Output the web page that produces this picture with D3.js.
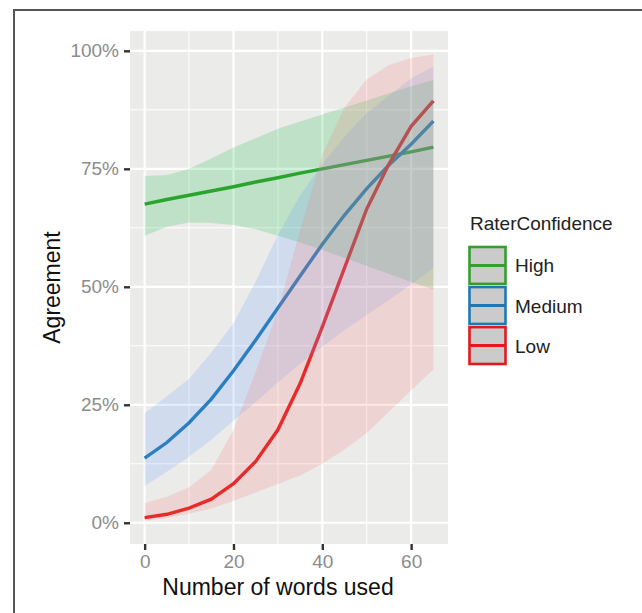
<!DOCTYPE html>
<html>
<head>
<meta charset="utf-8">
<script src="https://cdn.jsdelivr.net/npm/d3@7"></script>
<style>
  body { margin: 0; background: #fff; }
  svg { display: block; font-family: "Liberation Sans", Arial, sans-serif; }
</style>
</head>
<body>
<svg id="chart" width="642" height="613"></svg>
<script>
// words used (x)
const words = [0, 5, 10, 15, 20, 25, 30, 35, 40, 45, 50, 55, 60, 65];

// High confidence
const highFit   = [0.675, 0.685, 0.694, 0.703, 0.712, 0.722, 0.731, 0.741, 0.750, 0.759, 0.768, 0.777, 0.786, 0.796];
const highLower = [0.608, 0.627, 0.636, 0.635, 0.631, 0.622, 0.608, 0.594, 0.578, 0.561, 0.544, 0.527, 0.510, 0.494];
const highUpper = [0.735, 0.737, 0.750, 0.772, 0.795, 0.815, 0.835, 0.850, 0.865, 0.880, 0.895, 0.910, 0.925, 0.938];

// Medium confidence
const mediumFit   = [0.137, 0.170, 0.212, 0.262, 0.322, 0.387, 0.455, 0.523, 0.590, 0.652, 0.708, 0.758, 0.802, 0.851];
const mediumLower = [0.078, 0.108, 0.140, 0.176, 0.216, 0.256, 0.297, 0.337, 0.373, 0.408, 0.440, 0.472, 0.505, 0.540];
const mediumUpper = [0.232, 0.268, 0.305, 0.360, 0.423, 0.511, 0.610, 0.694, 0.760, 0.818, 0.868, 0.905, 0.942, 0.966];

// Low confidence
const lowFit   = [0.011, 0.018, 0.031, 0.050, 0.083, 0.130, 0.197, 0.295, 0.415, 0.540, 0.665, 0.760, 0.840, 0.894];
const lowLower = [0.004, 0.010, 0.019, 0.030, 0.046, 0.064, 0.082, 0.100, 0.125, 0.155, 0.190, 0.235, 0.280, 0.325];
const lowUpper = [0.042, 0.055, 0.075, 0.112, 0.197, 0.320, 0.450, 0.620, 0.780, 0.880, 0.940, 0.970, 0.985, 0.993];

const groups = ["High", "Medium", "Low"];
const lineColors = ["#33a02c", "#1f78b4", "#e31a1c"];
const ribbonColors = ["#00BA38", "#619CFF", "#F8766D"];

const xTicks = [0, 20, 40, 60];
const xMinor = [10, 30, 50];
const yTicks = [0, 0.25, 0.5, 0.75, 1];
const yMinor = [0.125, 0.375, 0.625, 0.875];

const series = [
  { name: "High", fit: highFit, lower: highLower, upper: highUpper },
  { name: "Medium", fit: mediumFit, lower: mediumLower, upper: mediumUpper },
  { name: "Low", fit: lowFit, lower: lowLower, upper: lowUpper }
];

const svg = d3.select("#chart");
const panel = { left: 130, right: 448, top: 31, bottom: 544 };

const x = d3.scaleLinear().domain([-3.3, 68.3]).range([panel.left, panel.right]);
const y = d3.scaleLinear().domain([-0.045, 1.042]).range([panel.bottom, panel.top]);

// frame (top + left)
svg.append("line").attr("x1", 13).attr("x2", 642).attr("y1", 10).attr("y2", 10)
  .attr("stroke", "#555").attr("stroke-width", 2);
svg.append("line").attr("x1", 14).attr("x2", 14).attr("y1", 9).attr("y2", 613)
  .attr("stroke", "#555").attr("stroke-width", 2);

// panel background
svg.append("rect")
  .attr("x", panel.left).attr("y", panel.top)
  .attr("width", panel.right - panel.left).attr("height", panel.bottom - panel.top)
  .attr("fill", "#ebebe9");

// grid
const grid = svg.append("g");
grid.selectAll(".xminor").data(xMinor).enter().append("line")
  .attr("x1", d => x(d)).attr("x2", d => x(d)).attr("y1", panel.top).attr("y2", panel.bottom)
  .attr("stroke", "#fff").attr("stroke-width", 1);
grid.selectAll(".yminor").data(yMinor).enter().append("line")
  .attr("y1", d => y(d)).attr("y2", d => y(d)).attr("x1", panel.left).attr("x2", panel.right)
  .attr("stroke", "#fff").attr("stroke-width", 1);
grid.selectAll(".xmajor").data(xTicks).enter().append("line")
  .attr("x1", d => x(d)).attr("x2", d => x(d)).attr("y1", panel.top).attr("y2", panel.bottom)
  .attr("stroke", "#fff").attr("stroke-width", 2.2);
grid.selectAll(".ymajor").data(yTicks).enter().append("line")
  .attr("y1", d => y(d)).attr("y2", d => y(d)).attr("x1", panel.left).attr("x2", panel.right)
  .attr("stroke", "#fff").attr("stroke-width", 2.2);

// lines (drawn under the ribbons)
const line = d3.line().x((d, i) => x(words[i])).y(d => y(d));
svg.append("g").selectAll("path").data(series).enter().append("path")
  .attr("d", d => line(d.fit))
  .attr("fill", "none")
  .attr("stroke", (d, i) => lineColors[i])
  .attr("stroke-width", 3.4);

// ribbons
const area = d3.area()
  .x((d, i) => x(words[i]))
  .y0(d => y(d[0]))
  .y1(d => y(d[1]));
svg.append("g").selectAll("path").data(series).enter().append("path")
  .attr("d", d => area(d.lower.map((v, i) => [v, d.upper[i]])))
  .attr("fill", (d, i) => ribbonColors[i])
  .attr("fill-opacity", 0.19);

// axes
const xAxis = svg.append("g")
  .attr("transform", `translate(0,${panel.bottom})`)
  .call(d3.axisBottom(x).tickValues(xTicks).tickSize(6).tickPadding(5));
const yAxis = svg.append("g")
  .attr("transform", `translate(${panel.left},0)`)
  .call(d3.axisLeft(y).tickValues(yTicks).tickFormat(d3.format(".0%")).tickSize(6).tickPadding(5));

[xAxis, yAxis].forEach(a => {
  a.select(".domain").remove();
  a.selectAll(".tick line").attr("stroke", "#333").attr("stroke-width", 2.4);
  a.selectAll(".tick text")
    .attr("fill", "#8c8c8c")
    .style("font-family", "'Liberation Sans', Arial, sans-serif")
    .style("font-size", "19px");
});

// axis titles
svg.append("text")
  .attr("x", 278).attr("y", 595)
  .attr("text-anchor", "middle")
  .style("font-size", "23px")
  .attr("fill", "#111")
  .text("Number of words used");

svg.append("text")
  .attr("transform", `translate(60,${(panel.top + panel.bottom) / 2}) rotate(-90)`)
  .attr("text-anchor", "middle")
  .style("font-size", "23px")
  .attr("fill", "#111")
  .text("Agreement");

// legend
const legend = svg.append("g");
legend.append("text")
  .attr("x", 470).attr("y", 230)
  .style("font-size", "19px")
  .attr("fill", "#222")
  .text("RaterConfidence");

const keyY = d3.scaleBand().domain(groups).range([247, 364]).paddingInner(0.08);
const keys = legend.selectAll(".key").data(groups).enter().append("g");
keys.append("rect")
  .attr("x", 469.5).attr("y", d => keyY(d))
  .attr("width", 36).attr("height", keyY.bandwidth())
  .attr("fill", "#cbcbcb")
  .attr("stroke", (d, i) => lineColors[i])
  .attr("stroke-width", 2.6);
keys.append("line")
  .attr("x1", 469.5).attr("x2", 505.5)
  .attr("y1", d => keyY(d) + keyY.bandwidth() / 2)
  .attr("y2", d => keyY(d) + keyY.bandwidth() / 2)
  .attr("stroke", (d, i) => lineColors[i])
  .attr("stroke-width", 3);
keys.append("text")
  .attr("x", 515)
  .attr("y", d => keyY(d) + keyY.bandwidth() / 2 + 7)
  .style("font-size", "19px")
  .attr("fill", "#222")
  .text(d => d);
</script>
</body>
</html>
